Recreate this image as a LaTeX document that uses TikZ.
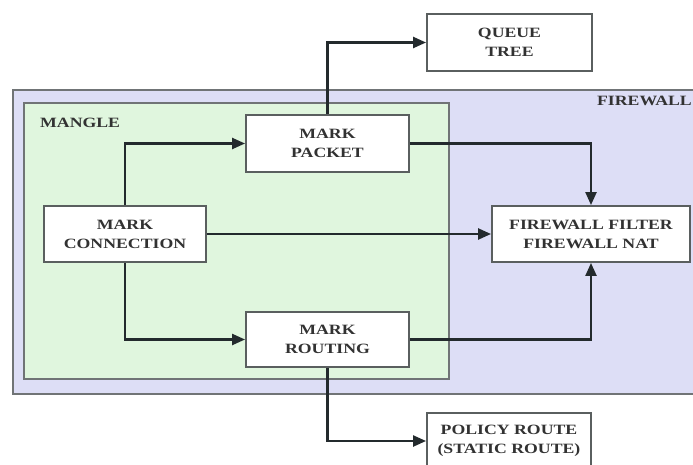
\documentclass[tikz,border=0pt]{standalone}
\usepackage{fontspec}
\setmainfont{Liberation Serif}[FakeStretch=1.25]
\usetikzlibrary{arrows.meta,positioning}
\definecolor{fwfill}{RGB}{221,222,246}
\definecolor{mgfill}{RGB}{224,246,222}
\definecolor{frame}{RGB}{112,116,118}
\definecolor{boxline}{RGB}{90,95,95}
\definecolor{wire}{RGB}{35,42,45}
\definecolor{txt}{RGB}{50,50,50}
\tikzset{
  area/.style={draw=frame,line width=2.4pt},
  blk/.style={draw=boxline,fill=white,line width=1.9pt,align=center,
    inner sep=0pt,text=txt,font=\fontsize{14.2}{19}\selectfont\bfseries},
  lbl/.style={text=txt,font=\fontsize{14.2}{19}\selectfont\bfseries,inner sep=0pt},
  arr/.style={draw=wire,line width=2.3pt,-{Triangle[length=13pt,width=11pt]}}
}
\begin{document}
\begin{tikzpicture}[x=1pt,y=-1pt]
\useasboundingbox (0,0) rectangle (693,465);
\clip (0,0) rectangle (693,465);
\fill[white] (0,0) rectangle (693,465);
% containers
\draw[area,fill=fwfill] (13,90) rectangle (702,394);
\draw[area,fill=mgfill] (24,103) rectangle (449,379);
\node[lbl,anchor=west] (mangle) at (40,123) {MANGLE};
\node[lbl,anchor=east] (firewall) at (692,101) {FIREWALL};
% blocks
\node[blk,minimum width=163pt,minimum height=57pt] (mp) at (327.5,143.5) {MARK\\PACKET};
\node[blk,minimum width=162pt,minimum height=56pt] (mc) at (125,234) {MARK\\CONNECTION};
\node[blk,minimum width=163pt,minimum height=55pt] (mr) at (327.5,339.5) {MARK\\ROUTING};
\node[blk,minimum width=198pt,minimum height=56pt] (ff) at (591,234) {FIREWALL FILTER\\FIREWALL NAT};
\node[blk,minimum width=165pt,minimum height=57pt] (qt) at (509.5,42.5) {QUEUE\\TREE};
\node[blk,minimum width=164pt,minimum height=56pt] (pr) at (509,441) {POLICY ROUTE\\(STATIC ROUTE)};
% connectors
\draw[arr] (mc.north) |- (mp.west);
\draw[arr] (mc.south) |- (mr.west);
\draw[arr] (mc.east) -- (ff.west);
\draw[arr] (mp.east) -| (ff.north);
\draw[arr] (mr.east) -| (ff.south);
\draw[arr] (mp.north) |- (qt.west);
\draw[arr] (mr.south) |- (pr.west);
\end{tikzpicture}
\end{document}
